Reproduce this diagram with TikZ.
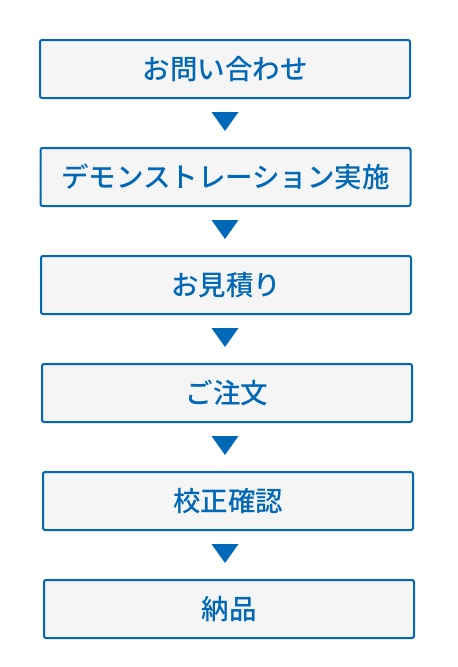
\documentclass[tikz,border=0pt]{standalone}
\usepackage{fontspec}
\newfontfamily\jp{Noto Sans CJK JP Medium}
\definecolor{bl}{HTML}{0068B7}
\definecolor{bg}{HTML}{F5F5F5}
\begin{document}
\begin{tikzpicture}[x=1pt,y=-1pt,
  stepbox/.style={draw=bl,fill=bg,line width=2pt,rounded corners=2pt,minimum width=370pt,minimum height=58pt,inner sep=0pt,font=\jp\fontsize{27.5}{27.5}\selectfont,text=bl},
  tri/.style={fill=bl}]
\useasboundingbox (0,0) rectangle (458,667);
\node[stepbox] (b1) at (225,69) {\raisebox{1pt}{お問い合わせ}};
\node[stepbox] (b2) at (225.5,177) {\raisebox{1pt}{デモンストレーション実施}};
\node[stepbox] (b3) at (226,285) {\raisebox{1pt}{お見積り}};
\node[stepbox] (b4) at (227,393) {\raisebox{1pt}{ご注文}};
\node[stepbox] (b5) at (228,501) {\raisebox{1pt}{校正確認}};
\node[stepbox] (b6) at (229,609) {\raisebox{1pt}{納品}};
\foreach \i/\y in {1/121.5,2/229.5,3/337.5,4/445.5,5/553.5}{
  \coordinate (t\i) at (225,\y);
  \fill[tri] (t\i) ++(-13.5,-9.5) -- ++(27,0) -- ++(-13.5,19) -- cycle;
}
\end{tikzpicture}
\end{document}
